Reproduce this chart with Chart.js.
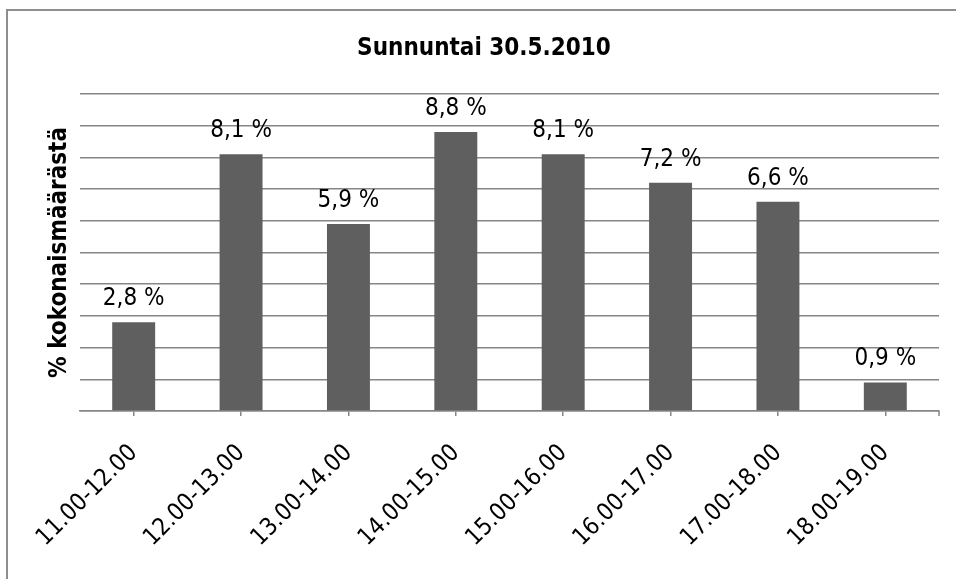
<!DOCTYPE html>
<html><head><meta charset="utf-8">
<script src="https://cdn.jsdelivr.net/npm/chart.js@4/dist/chart.umd.min.js"></script>
<style>
html,body{margin:0;padding:0;background:#fff;overflow:hidden}
#wrap{position:relative;width:956px;height:579px;overflow:hidden;background:#fff}
#frame{position:absolute;left:6px;top:9px;width:1200px;height:1200px;border:2px solid #8e8e8e;box-sizing:border-box}
canvas{position:absolute;left:0;top:0}
</style></head><body>
<div id="wrap"><div id="frame"></div><canvas id="c" width="956" height="579"></canvas></div>
<script>
const categories = ['11.00-12.00','12.00-13.00','13.00-14.00','14.00-15.00','15.00-16.00','16.00-17.00','17.00-18.00','18.00-19.00'];
const values = [2.8, 8.1, 5.9, 8.8, 8.1, 7.2, 6.6, 0.9];
const chartTitle = 'Sunnuntai 30.5.2010';
const yAxisTitle = '% kokonaismäärästä';
const yMin = 0, yMax = 10, yStep = 1;

const FONT = '"DejaVu Sans Condensed", "DejaVu Sans", sans-serif';
const GRID = '#868686';

function fmt(v){ return v.toFixed(1).replace('.', ',') + ' %'; }

const extras = {
  id: 'extras',
  afterDatasetsDraw(chart){
    const ctx = chart.ctx;
    const meta = chart.getDatasetMeta(0);
    ctx.save();
    ctx.font = '24px ' + FONT;
    ctx.fillStyle = '#000';
    ctx.textAlign = 'center';
    ctx.textBaseline = 'alphabetic';
    meta.data.forEach((bar, i) => {
      ctx.fillText(fmt(values[i]), bar.x, bar.y - 17);
    });
    ctx.restore();
  },
  afterDraw(chart){
    const ctx = chart.ctx;
    const a = chart.chartArea;
    ctx.save();
    ctx.strokeStyle = GRID;
    ctx.lineWidth = 1.5;
    ctx.beginPath();
    ctx.moveTo(a.right, a.bottom);
    ctx.lineTo(a.right, a.bottom + 5);
    ctx.stroke();
    // chart title, centred on the outer frame
    ctx.font = 'bold 24px ' + FONT;
    ctx.fillStyle = '#000';
    ctx.textAlign = 'center';
    ctx.textBaseline = 'alphabetic';
    ctx.fillText(chartTitle, 484, 55);
    ctx.restore();
  }
};

Chart.defaults.font.family = FONT;
Chart.defaults.color = '#000';

new Chart(document.getElementById('c'), {
  type: 'bar',
  data: {
    labels: categories,
    datasets: [{
      data: values,
      backgroundColor: '#5f5f5f',
      borderWidth: 0,
      barPercentage: 0.4,
      categoryPercentage: 1.0
    }]
  },
  options: {
    responsive: false,
    animation: false,
    devicePixelRatio: 1,
    layout: { padding: { left: 0, right: 17, top: 94, bottom: 0 } },
    plugins: {
      legend: { display: false },
      tooltip: { enabled: false },
      title: { display: false }
    },
    scales: {
      x: {
        offset: true,
        grid: { display: true, drawOnChartArea: false, drawTicks: true, tickLength: 5, offset: false, color: GRID, lineWidth: 1.5 },
        border: { display: true, color: GRID, width: 1.5 },
        ticks: { autoSkip: false, maxRotation: 45, minRotation: 45, padding: 23, color: '#000', font: { size: 24, family: FONT } },
        afterFit(scale){ scale.height = 168; }
      },
      y: {
        min: yMin, max: yMax,
        ticks: { display: false, stepSize: yStep },
        grid: { color: GRID, lineWidth: 1.5, drawTicks: false },
        border: { display: false },
        title: {
          display: true,
          text: yAxisTitle,
          color: '#000',
          font: { size: 24, weight: 'bold', family: FONT },
          padding: { top: 45, bottom: 0 }
        },
        afterFit(scale){ scale.width = 80; }
      }
    }
  },
  plugins: [extras]
});
</script>
</body></html>
